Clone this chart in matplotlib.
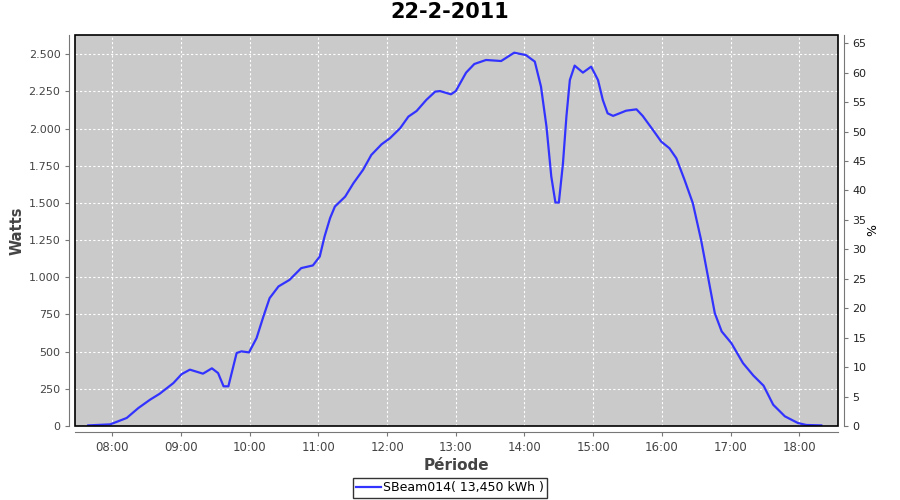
import numpy as np
import matplotlib
matplotlib.use("Agg")
import matplotlib.pyplot as plt
from matplotlib.ticker import FuncFormatter, MultipleLocator
from matplotlib.patches import Rectangle

# time of day in hours, power in watts
hours = [7.65, 7.97, 8.21, 8.38, 8.55, 8.69, 8.89, 9.01, 9.13, 9.32, 9.45, 9.54,
         9.62, 9.69, 9.81, 9.88, 9.99, 10.10, 10.20, 10.29, 10.42, 10.58, 10.75,
         10.92, 11.02, 11.09, 11.17, 11.24, 11.39, 11.51, 11.65, 11.77, 11.92,
         12.04, 12.19, 12.31, 12.43, 12.57, 12.70, 12.77, 12.93, 13.00, 13.15,
         13.27, 13.44, 13.66, 13.85, 14.02, 14.15, 14.24, 14.32, 14.39, 14.45,
         14.50, 14.56, 14.61, 14.66, 14.73, 14.85, 14.97, 15.07, 15.14, 15.21,
         15.29, 15.48, 15.63, 15.72, 15.87, 15.99, 16.11, 16.21, 16.33, 16.45,
         16.57, 16.67, 16.77, 16.87, 17.01, 17.18, 17.33, 17.48, 17.62, 17.79,
         17.98, 18.10, 18.32]
watts = [4, 11, 54, 121, 177, 217, 289, 349, 379, 352, 388, 356,
         267, 267, 491, 502, 495, 591, 737, 860, 939, 983, 1062,
         1080, 1140, 1275, 1398, 1476, 1543, 1633, 1723, 1823, 1895,
         1935, 2003, 2081, 2119, 2193, 2249, 2253, 2231, 2253, 2377,
         2435, 2462, 2455, 2511, 2495, 2451, 2283, 2014, 1678, 1503,
         1503, 1767, 2081, 2327, 2424, 2377, 2417, 2327, 2193, 2103,
         2086, 2121, 2130, 2086, 1991, 1913, 1868, 1801, 1655, 1499,
         1252, 1006, 759, 636, 558, 423, 340, 271, 143, 65,
         20, 7, 4]

title = "22-2-2011"
series_label = "SBeam014( 13,450 kWh )"

plt.rcParams['font.family'] = ['DejaVu Sans']
fig = plt.figure(figsize=(9, 5), dpi=100)
ax = fig.add_axes([0.0833, 0.148, 0.8478, 0.782])
ax.set_facecolor('#cacaca')

line, = ax.plot(hours, watts, color='#3333ff', linewidth=1.6, label=series_label)

ax.set_xlim(7.457, 18.563)
ax.set_ylim(0, 2630)
ax.xaxis.set_major_locator(MultipleLocator(1))
ax.yaxis.set_major_locator(MultipleLocator(250))
ax.xaxis.set_major_formatter(FuncFormatter(lambda v, p: "%02d:00" % int(round(v))))
ax.yaxis.set_major_formatter(FuncFormatter(lambda v, p: "{:,}".format(int(v)).replace(",", ".")))
ax.grid(True, color='white', linestyle=(0, (2, 2)), linewidth=0.8)

for s in ['left', 'bottom']:
    ax.spines[s].set_position(('outward', 4))
    ax.spines[s].set_color('#777777')
for s in ['top', 'right']:
    ax.spines[s].set_visible(False)
ax.add_patch(Rectangle((0, 0), 1, 1, transform=ax.transAxes, fill=False,
                       edgecolor='black', linewidth=1.2, zorder=5, clip_on=False))
ax.tick_params(labelsize=8.5, colors='#444444', length=3, color='#777777')
ax.tick_params(axis='y', labelsize=8)
ax.set_ylabel("Watts", fontsize=10.5, color='#444444', fontweight='bold')
ax.yaxis.set_label_coords(-0.066, 0.5)
ax.set_xlabel("Période", fontsize=11, color='#444444', fontweight='bold', labelpad=3)

ax2 = ax.twinx()
ax2.set_ylim(0, 66.4)
ax2.yaxis.set_major_locator(MultipleLocator(5))
for s in ['left', 'top', 'bottom']:
    ax2.spines[s].set_visible(False)
ax2.spines['right'].set_position(('outward', 4))
ax2.spines['right'].set_color('#777777')
ax2.tick_params(labelsize=8, colors='#222222', length=3, color='#777777')
ax2.set_ylabel("%", fontsize=9, rotation=270, labelpad=6)

fig.suptitle(title, fontsize=15, fontweight='bold', y=0.995)
fig.legend(handles=[line], loc='center', bbox_to_anchor=(0.5, 0.024), fontsize=9,
           frameon=True, fancybox=False, edgecolor='black', handlelength=2,
           handletextpad=0.2, borderpad=0.25, borderaxespad=0)

fig.savefig("out.png", dpi=100)
